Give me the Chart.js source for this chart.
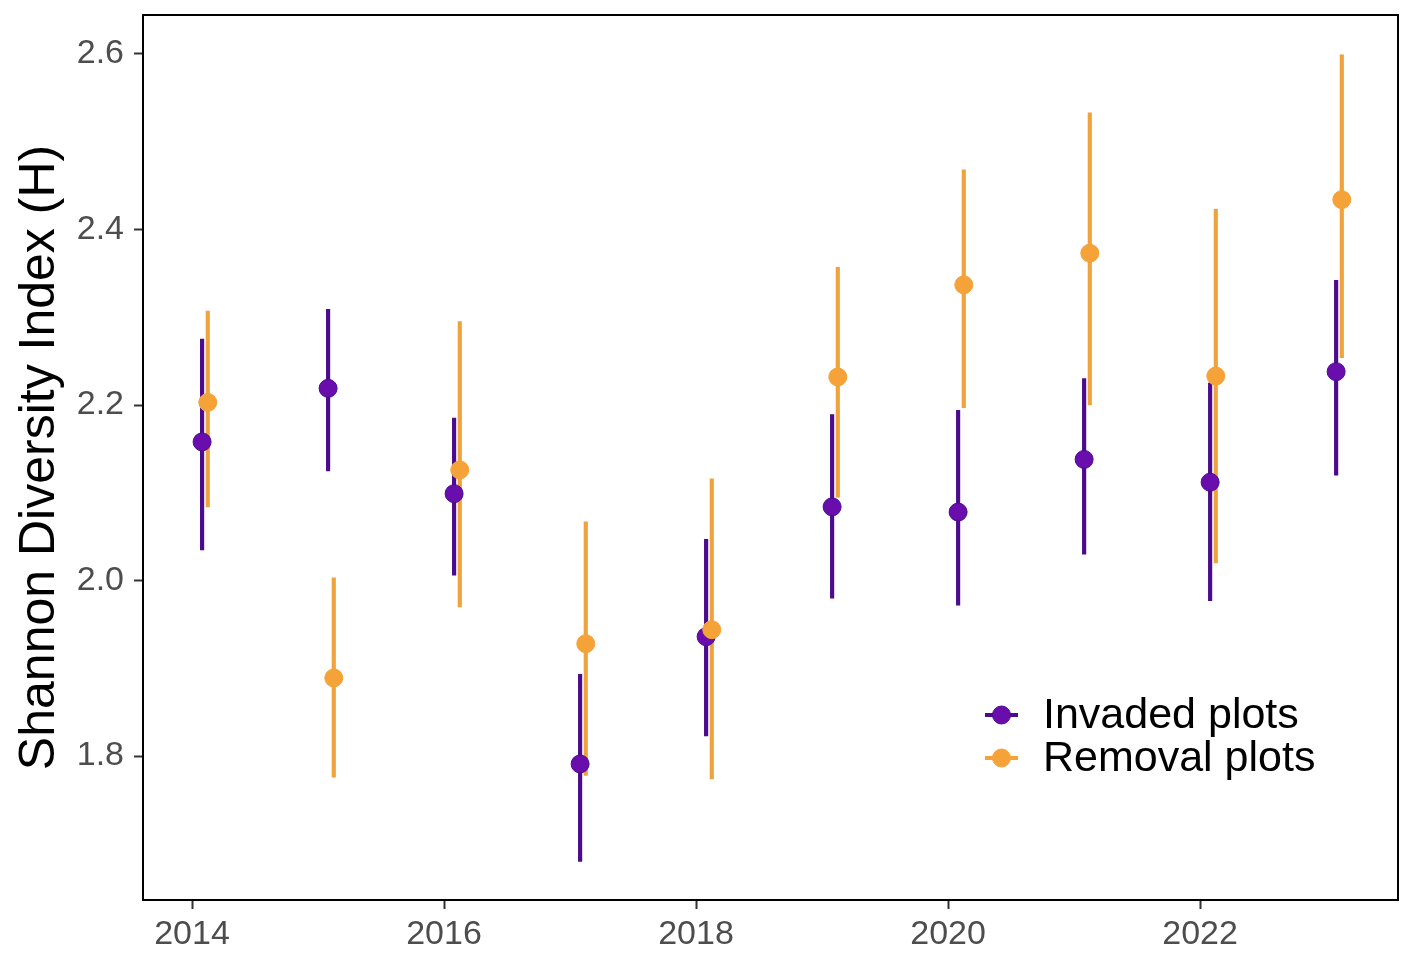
<!DOCTYPE html>
<html>
<head>
<meta charset="utf-8">
<script src="https://cdn.jsdelivr.net/npm/chart.js@4/dist/chart.umd.min.js"></script>
<style>
  html, body { margin: 0; padding: 0; background: #fff; }
  canvas { display: block; }
</style>
</head>
<body>
<canvas id="diversityChart" width="1417" height="960"></canvas>
<script>
// Data
const years = [2014, 2015, 2016, 2017, 2018, 2019, 2020, 2021, 2022, 2023];

const invadedMean = [2.158, 2.219, 2.099, 1.791, 1.936, 2.084, 2.078, 2.138, 2.112, 2.238];
const invadedLow  = [2.035, 2.125, 2.006, 1.680, 1.823, 1.980, 1.972, 2.030, 1.977, 2.120];
const invadedHigh = [2.275, 2.309, 2.185, 1.893, 2.047, 2.189, 2.194, 2.230, 2.225, 2.342];

const removalMean = [2.203, 1.889, 2.126, 1.928, 1.944, 2.232, 2.337, 2.373, 2.233, 2.434];
const removalLow  = [2.084, 1.776, 1.970, 1.778, 1.774, 2.095, 2.197, 2.200, 2.020, 2.254];
const removalHigh = [2.307, 2.003, 2.295, 2.067, 2.116, 2.357, 2.468, 2.533, 2.423, 2.599];

// small horizontal dodge of each group (in years)
const invadedShift = 0.08;
const removalShift = 0.125;

const xTicks = [2014, 2016, 2018, 2020, 2022];
const yTicks = [1.8, 2.0, 2.2, 2.4, 2.6];

const seriesNames = ['Invaded plots', 'Removal plots'];

// Colours
const purple = '#6a0dad';
const purpleDark = '#4b0b8c';
const orange = '#f5a238';
const orangeBar = '#f0a23c';

const baseFont = "'Liberation Sans', Arial, sans-serif";

function pointsOf(mean, shift) {
  return years.map((yr, i) => ({ x: yr + shift, y: mean[i] }));
}
function rangesOf(low, high, shift) {
  return years.map((yr, i) => ({ x: yr + shift, y: [low[i], high[i]] }));
}

// Panel border drawn round the plotting area
const panelBorder = {
  id: 'panelBorder',
  afterDatasetsDraw(chart) {
    const { ctx, chartArea: a } = chart;
    ctx.save();
    ctx.strokeStyle = '#000';
    ctx.lineWidth = 2;
    ctx.strokeRect(a.left, a.top, a.right - a.left, a.bottom - a.top);
    ctx.restore();
  }
};

// Legend placed inside the panel, lower right
const insideLegend = {
  id: 'insideLegend',
  afterDraw(chart) {
    const { ctx, chartArea: a } = chart;
    const items = [
      { label: seriesNames[0], line: purpleDark, fill: purple, edge: purpleDark },
      { label: seriesNames[1], line: orange, fill: orange, edge: orange }
    ];
    const x0 = a.left + 842;
    let y = a.top + 700;
    ctx.save();
    ctx.font = '43px ' + baseFont;
    ctx.textBaseline = 'middle';
    items.forEach(item => {
      ctx.strokeStyle = item.line;
      ctx.lineWidth = 4;
      ctx.beginPath();
      ctx.moveTo(x0, y);
      ctx.lineTo(x0 + 33, y);
      ctx.stroke();
      ctx.beginPath();
      ctx.arc(x0 + 16.5, y, 9, 0, Math.PI * 2);
      ctx.fillStyle = item.fill;
      ctx.fill();
      ctx.lineWidth = 1;
      ctx.strokeStyle = item.edge;
      ctx.stroke();
      ctx.fillStyle = '#000';
      ctx.fillText(item.label, x0 + 58, y + 1);
      y += 43;
    });
    ctx.restore();
  }
};

document.addEventListener('DOMContentLoaded', function() {
  const ctx = document.getElementById('diversityChart').getContext('2d');
  new Chart(ctx, {
    type: 'bar',
    data: {
      datasets: [
        {
          type: 'bar',
          label: seriesNames[1] + ' range',
          data: rangesOf(removalLow, removalHigh, removalShift),
          backgroundColor: orangeBar,
          borderWidth: 0,
          barThickness: 3.5,
          grouped: false,
          order: 4
        },
        {
          type: 'bar',
          label: seriesNames[0] + ' range',
          data: rangesOf(invadedLow, invadedHigh, invadedShift),
          backgroundColor: purpleDark,
          borderWidth: 0,
          barThickness: 3.5,
          grouped: false,
          order: 3
        },
        {
          type: 'scatter',
          label: seriesNames[0],
          data: pointsOf(invadedMean, invadedShift),
          backgroundColor: purple,
          borderColor: purpleDark,
          borderWidth: 1,
          pointRadius: 9,
          pointHoverRadius: 9,
          order: 2
        },
        {
          type: 'scatter',
          label: seriesNames[1],
          data: pointsOf(removalMean, removalShift),
          backgroundColor: orange,
          borderColor: orange,
          borderWidth: 1,
          pointRadius: 9,
          pointHoverRadius: 9,
          order: 1
        }
      ]
    },
    options: {
      responsive: false,
      animation: false,
      layout: { padding: { top: 15, right: 19, bottom: 0, left: 0 } },
      plugins: {
        legend: { display: false },
        tooltip: { enabled: false }
      },
      scales: {
        x: {
          type: 'linear',
          offset: false,
          min: 2013.611,
          max: 2023.571,
          afterFit: s => { s.height = 60; },
          afterBuildTicks: s => { s.ticks = xTicks.map(v => ({ value: v })); },
          border: { display: false },
          grid: {
            offset: false,
            drawOnChartArea: false,
            drawTicks: true,
            tickLength: 9,
            tickWidth: 2,
            tickColor: '#333'
          },
          ticks: {
            autoSkip: false,
            maxRotation: 0,
            padding: 5,
            color: '#4d4d4d',
            font: { family: baseFont, size: 34 },
            callback: v => String(v)
          }
        },
        y: {
          type: 'linear',
          min: 1.636,
          max: 2.6444,
          afterFit: s => {
            s.width = 143;
            // labels sit well inside the range, no extra room needed
            s.paddingTop = 0;
            s.paddingBottom = 0;
          },
          afterBuildTicks: s => { s.ticks = yTicks.map(v => ({ value: v })); },
          border: { display: false },
          grid: {
            drawOnChartArea: false,
            drawTicks: true,
            tickLength: 9,
            tickWidth: 2,
            tickColor: '#333'
          },
          ticks: {
            padding: 10,
            color: '#4d4d4d',
            font: { family: baseFont, size: 34 },
            callback: v => v.toFixed(1)
          },
          title: {
            display: true,
            text: 'Shannon Diversity Index (H)',
            color: '#000',
            font: { family: baseFont, size: 50 },
            padding: { top: 10, bottom: 0 }
          }
        }
      }
    },
    plugins: [panelBorder, insideLegend]
  });
});
</script>
</body>
</html>
